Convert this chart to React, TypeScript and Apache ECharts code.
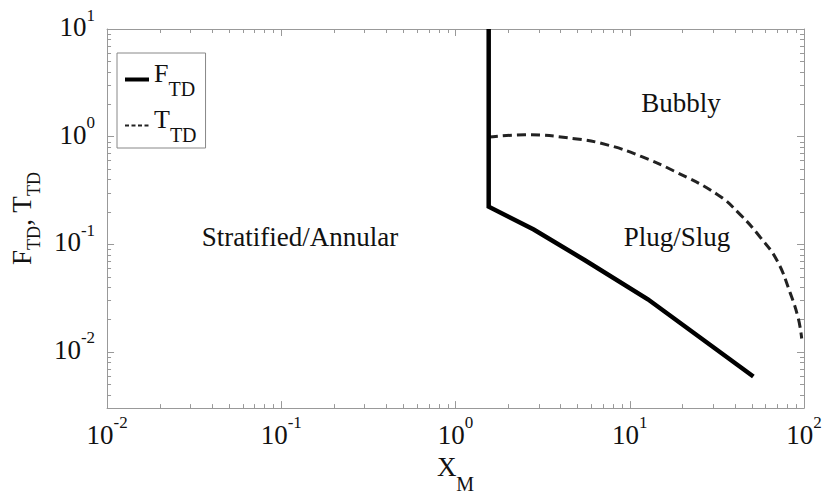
import React, { useEffect, useRef } from 'react';
import * as echarts from 'echarts';

// ---- data ----
const fTdX = [1.55, 1.55, 2.81, 5.53, 12.7, 51.2];
const fTdY = [10, 0.223, 0.137, 0.071, 0.0308, 0.0059];

const tTdX = [1.556, 2.5, 4.83, 7.51, 11.63, 17.93, 31.8, 43.2, 56.1, 69.9, 83.2, 92.8, 97.0];
const tTdY = [0.99, 1.04, 0.957, 0.834, 0.654, 0.479, 0.29, 0.1875, 0.116, 0.071, 0.0355, 0.0203, 0.0133];

const regionLabels = ['Stratified/Annular', 'Bubbly', 'Plug/Slug'];
const minorMultipliers = [2, 3, 4, 5, 6, 7, 8, 9];
const xDecades = [-2, -1, 0, 1];
const yDecades = [-3, -2, -1, 0];

const X_MIN = 0.01;
const X_MAX = 100;
const Y_MIN = 0.003;
const Y_MAX = 10;

const FONT = '"Liberation Serif", "Times New Roman", serif';
const AXIS_COLOR = '#999999';

const tok = (fontSize: number, padTop: number, padBottom: number) => ({
  fontSize,
  height: fontSize,
  fontFamily: FONT,
  color: '#111',
  verticalAlign: 'top',
  padding: [padTop, 0, padBottom, 0],
});

const powLabel = (value: number) => {
  const l = Math.log10(value);
  const e = Math.round(l);
  if (Math.abs(l - e) > 1e-6) return '';
  return `{b|10}{s|${e}}`;
};

export default function App() {
  const ref = useRef<HTMLDivElement>(null);

  useEffect(() => {
    if (!ref.current) return;
    const chart = echarts.init(ref.current, undefined, { renderer: 'svg' });

    const axisLineStyle = { color: AXIS_COLOR, width: 1 };
    const baseAxis = {
      type: 'log',
      logBase: 10,
      axisLine: { show: true, onZero: false, lineStyle: axisLineStyle },
      axisTick: { show: true, inside: true, length: 7, lineStyle: axisLineStyle },
      splitLine: { show: false },
      minorTick: { show: false },
    };

    const option: any = {
      animation: false,
      backgroundColor: '#fff',
      grid: { left: 102, right: 22, top: 29, bottom: 80, containLabel: false },
      xAxis: [
        {
          ...baseAxis,
          min: X_MIN,
          max: X_MAX,
          position: 'bottom',
          axisLabel: {
            margin: 6,
            formatter: powLabel,
            rich: { b: tok(27, 7, 0), s: tok(17, 0, 0) },
          },
          name: '{b|X}{s|M}',
          nameLocation: 'middle',
          nameGap: 38,
          nameTextStyle: { rich: { b: tok(27, 0, 0), s: tok(20, 21, 0) } },
        },
        {
          ...baseAxis,
          min: X_MIN,
          max: X_MAX,
          position: 'top',
          axisLabel: { show: false },
        },
      ],
      yAxis: [
        {
          ...baseAxis,
          min: Y_MIN,
          max: Y_MAX,
          position: 'left',
          axisLabel: {
            margin: 12,
            formatter: powLabel,
            rich: { b: tok(27, 7, 11), s: tok(17, 0, 0) },
          },
          name: '{b|F}{s|TD}{b|, T}{s|TD}',
          nameLocation: 'middle',
          nameGap: 54,
          nameTextStyle: { rich: { b: tok(27, 0, 0), s: tok(18, 17, 0) } },
        },
        {
          ...baseAxis,
          min: Y_MIN,
          max: Y_MAX,
          position: 'right',
          axisLabel: { show: false },
        },
      ],
      legend: {
        data: [
          { name: 'FTD', lineStyle: { width: 4, type: 'solid', color: '#000' } },
          { name: 'TTD', lineStyle: { width: 2, type: [4, 2.5], color: '#222' } },
        ],
        orient: 'vertical',
        left: 117,
        top: 53,
        padding: [7, 9, 3, 6],
        itemGap: 7,
        itemWidth: 24,
        itemHeight: 14,
        borderColor: '#888',
        borderWidth: 1,
        backgroundColor: '#fff',
        selectedMode: false,
        itemStyle: { opacity: 0 },
        formatter: (name: string) => (name === 'FTD' ? '{b|F}{s|TD}' : '{b|T}{s|TD}'),
        textStyle: {
          fontFamily: FONT,
          fontSize: 26,
          rich: { b: tok(26, 0, 0), s: tok(20, 19, 0) },
        },
      },
      graphic: [
        { type: 'text', x: 300, y: 237, style: { text: regionLabels[0], fontSize: 27, fontFamily: FONT, fill: '#111', align: 'center', verticalAlign: 'middle' } },
        { type: 'text', x: 681, y: 103, style: { text: regionLabels[1], fontSize: 27, fontFamily: FONT, fill: '#111', align: 'center', verticalAlign: 'middle' } },
        { type: 'text', x: 677, y: 237, style: { text: regionLabels[2], fontSize: 27, fontFamily: FONT, fill: '#111', align: 'center', verticalAlign: 'middle' } },
      ],
      series: [
        {
          name: 'FTD',
          type: 'line',
          xAxisIndex: 0,
          yAxisIndex: 0,
          data: fTdX.map((x, i) => [x, fTdY[i]]),
          showSymbol: false,
          symbol: 'none',
          lineStyle: { color: '#000', width: 4.5, join: 'miter' },
          itemStyle: { color: '#000' },
          z: 3,
        },
        {
          name: 'TTD',
          type: 'line',
          xAxisIndex: 0,
          yAxisIndex: 0,
          data: tTdX.map((x, i) => [x, tTdY[i]]),
          showSymbol: false,
          symbol: 'none',
          smooth: 0.45,
          lineStyle: { color: '#222', width: 3, type: [9, 5] },
          itemStyle: { color: '#222' },
          z: 2,
        },
        {
          name: 'minorTicks',
          type: 'custom',
          silent: true,
          clip: false,
          xAxisIndex: 0,
          yAxisIndex: 0,
          data: [[1, 1]],
          renderItem: (params: any, api: any) => {
            const children: any[] = [];
            const L = 4;
            const st = { stroke: AXIS_COLOR, lineWidth: 1 };
            xDecades.forEach((d) =>
              minorMultipliers.forEach((m) => {
                const v = m * Math.pow(10, d);
                const pb = api.coord([v, Y_MIN]);
                const pt = api.coord([v, Y_MAX]);
                const x = Math.round(pb[0]) + 0.5;
                children.push({ type: 'line', shape: { x1: x, y1: pb[1], x2: x, y2: pb[1] - L }, style: st });
                children.push({ type: 'line', shape: { x1: x, y1: pt[1], x2: x, y2: pt[1] + L }, style: st });
              })
            );
            yDecades.forEach((d) =>
              minorMultipliers.forEach((m) => {
                const v = m * Math.pow(10, d);
                if (v <= Y_MIN * 1.0001 || v >= Y_MAX) return;
                const pl = api.coord([X_MIN, v]);
                const pr = api.coord([X_MAX, v]);
                const y = Math.round(pl[1]) + 0.5;
                children.push({ type: 'line', shape: { x1: pl[0], y1: y, x2: pl[0] + L, y2: y }, style: st });
                children.push({ type: 'line', shape: { x1: pr[0], y1: y, x2: pr[0] - L, y2: y }, style: st });
              })
            );
            return { type: 'group', children };
          },
        },
      ],
    };

    chart.setOption(option);
    return () => chart.dispose();
  }, []);

  return (
    <div
      ref={ref}
      style={{ position: 'fixed', left: 0, top: 0, width: 826, height: 499, background: '#fff' }}
    />
  );
}
